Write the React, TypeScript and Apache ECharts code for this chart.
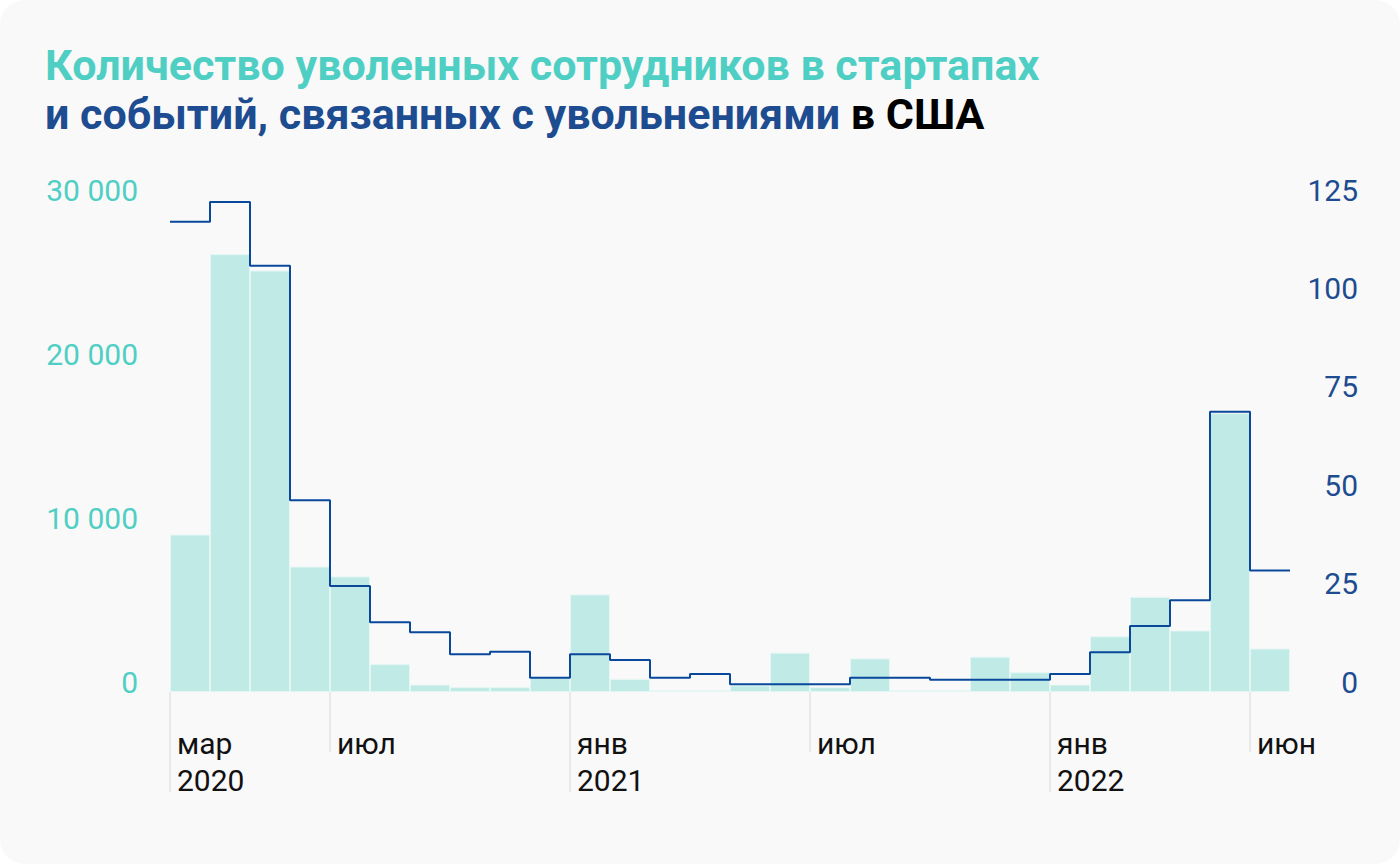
import React, { useEffect, useRef } from "react";
import * as echarts from "echarts";

// Months from March 2020 to June 2022
const months = [
  "2020-03", "2020-04", "2020-05", "2020-06", "2020-07", "2020-08", "2020-09", "2020-10", "2020-11", "2020-12",
  "2021-01", "2021-02", "2021-03", "2021-04", "2021-05", "2021-06", "2021-07", "2021-08", "2021-09", "2021-10", "2021-11", "2021-12",
  "2022-01", "2022-02", "2022-03", "2022-04", "2022-05", "2022-06",
];

// Laid-off employees (left axis)
const layoffs = [
  9600, 26700, 25700, 7650, 7050, 1700, 450, 300, 300, 900,
  5950, 800, 100, 100, 400, 2400, 300, 2050, 100, 100, 2150, 1200,
  450, 3400, 5800, 3750, 17000, 2650,
];

// Layoff events (right axis)
const events = [
  119.5, 124.5, 108.3, 48.7, 26.9, 17.7, 15.2, 9.6, 10.2, 3.6,
  9.6, 8.1, 3.6, 4.6, 2.0, 2.0, 2.0, 3.6, 3.6, 3.1, 3.1, 3.1,
  4.6, 10.1, 16.8, 23.3, 71.2, 30.9,
];

// X tick labels at month boundaries
const tickIndex = [0, 4, 10, 16, 22, 27];
const tickLabels = ["мар\n2020", "июл", "янв\n2021", "июл", "янв\n2022", "июн"];
const yearTickIndex = [0, 10, 22];

const leftTicks = { min: 0, max: 30000, interval: 10000 };
const rightTicks = { min: 0, max: 125, interval: 25 };

const FONT = "Roboto, 'Noto Sans', sans-serif";
const TEAL = "#4fcfc4";
const BLUE = "#1d4c91";
const LINE = "#0a489c";

export default function App() {
  const ref = useRef<HTMLDivElement>(null);

  useEffect(() => {
    if (!ref.current) return;
    const chart = echarts.init(ref.current, undefined, { renderer: "svg" });

    const boundaries = Array.from({ length: months.length + 1 }, (_, i) => {
      const k = tickIndex.indexOf(i);
      return k >= 0 ? tickLabels[k] : "";
    });
    const shortTicks = tickIndex.filter((i) => !yearTickIndex.includes(i));
    const lineData = [...events, events[events.length - 1]];

    const fmt = (v: number) => String(v).replace(/\B(?=(\d{3})+(?!\d))/g, " ");

    chart.setOption({
      animation: false,
      backgroundColor: "transparent",
      title: {
        left: 40,
        top: 35,
        text:
          "{a|Количество уволенных сотрудников в стартапах}\n{b|и событий, связанных с увольнениями}{c| в США}",
        textStyle: {
          rich: {
            a: { fontSize: 43, fontWeight: 700, color: TEAL, fontFamily: FONT, lineHeight: 49 },
            b: { fontSize: 43, fontWeight: 700, color: BLUE, fontFamily: FONT, lineHeight: 49 },
            c: { fontSize: 43, fontWeight: 700, color: "#000000", fontFamily: FONT, lineHeight: 49 },
          },
        },
      },
      grid: { left: 170, right: 110, top: 200, bottom: 172, containLabel: false },
      xAxis: [
        {
          type: "category",
          data: months,
          boundaryGap: true,
          show: false,
        },
        {
          type: "category",
          data: boundaries,
          boundaryGap: false,
          position: "bottom",
          axisLine: { show: false },
          splitLine: { show: false },
          axisTick: {
            show: true,
            length: 60,
            interval: (i: number) => shortTicks.includes(i),
            lineStyle: { color: "#e2e2e2", width: 1.5 },
          },
          axisLabel: {
            interval: 0,
            margin: 33,
            align: "left",
            padding: [0, 0, 0, 7],
            fontSize: 30,
            lineHeight: 37,
            color: "#111111",
            fontFamily: FONT,
          },
        },
        {
          type: "category",
          data: boundaries,
          boundaryGap: false,
          position: "bottom",
          axisLine: { show: false },
          splitLine: { show: false },
          axisLabel: { show: false },
          axisTick: {
            show: true,
            length: 100,
            interval: (i: number) => yearTickIndex.includes(i),
            lineStyle: { color: "#e2e2e2", width: 1.5 },
          },
        },
      ],
      yAxis: [
        {
          type: "value",
          position: "left",
          ...leftTicks,
          splitLine: { show: false },
          axisLine: { show: false },
          axisTick: { show: false },
          axisLabel: {
            margin: 32,
            fontSize: 30,
            color: TEAL,
            fontFamily: FONT,
            verticalAlign: "bottom",
            lineHeight: 20,
            formatter: (v: number) => fmt(v),
          },
        },
        {
          type: "value",
          position: "right",
          ...rightTicks,
          splitLine: { show: false },
          axisLine: { show: false },
          axisTick: { show: false },
          axisLabel: {
            margin: 68,
            align: "right",
            fontSize: 30,
            color: BLUE,
            fontFamily: FONT,
            verticalAlign: "bottom",
            lineHeight: 20,
          },
        },
      ],
      series: [
        {
          type: "bar",
          xAxisIndex: 0,
          yAxisIndex: 0,
          data: layoffs,
          barCategoryGap: "0%",
          itemStyle: {
            color: "#bfeae6",
            borderColor: "#e4f6f4",
            borderWidth: 1,
          },
          z: 1,
        },
        {
          type: "line",
          xAxisIndex: 1,
          yAxisIndex: 1,
          data: lineData,
          step: "end",
          symbol: "none",
          lineStyle: { color: LINE, width: 2 },
          z: 3,
        },
      ],
    });

    return () => chart.dispose();
  }, []);

  return (
    <div
      style={{
        position: "fixed",
        left: 0,
        top: 0,
        width: 1400,
        height: 864,
        background: "#ffffff",
      }}
    >
      <div
        style={{
          position: "absolute",
          left: 0,
          top: 0,
          width: 1400,
          height: 864,
          borderRadius: 24,
          background: "#f9f9f9",
          overflow: "hidden",
        }}
      >
        <div ref={ref} style={{ width: 1400, height: 864 }} />
      </div>
    </div>
  );
}
